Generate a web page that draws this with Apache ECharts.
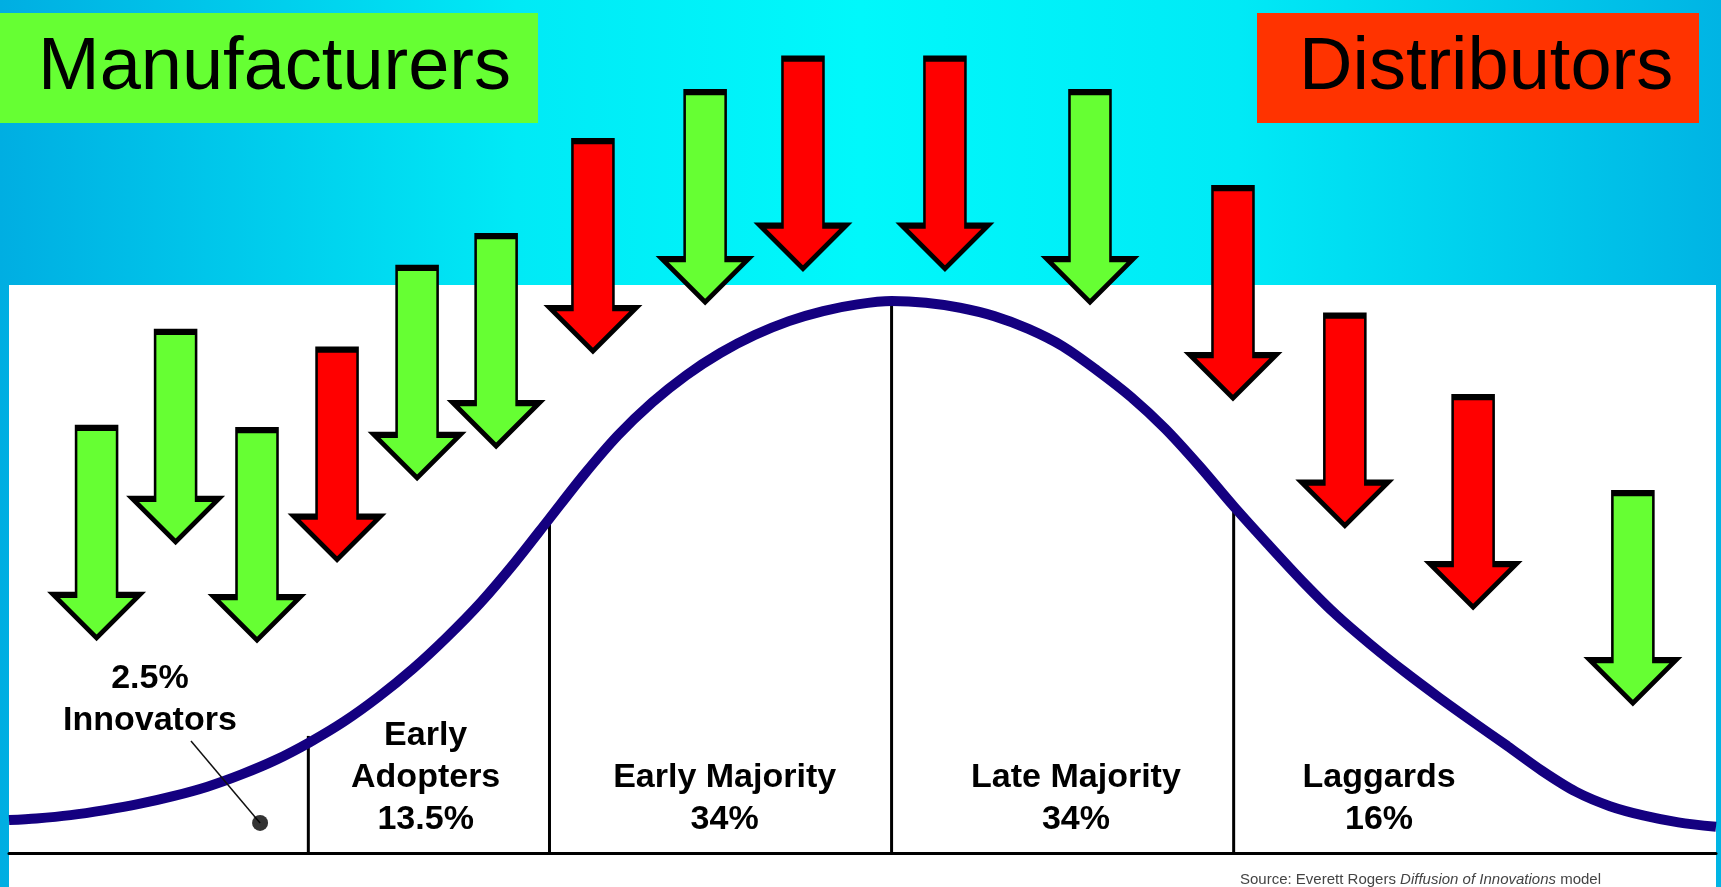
<!DOCTYPE html>
<html><head><meta charset="utf-8">
<script src="https://cdn.jsdelivr.net/npm/echarts@6/dist/echarts.min.js"></script>
<style>html,body{margin:0;padding:0;background:#fff;}#chart{width:1721px;height:887px;}</style>
</head><body><div id="chart"></div>
<script>
// Bell curve of adoption: x in standard deviations from the mean, y relative height (peak ~1)
const curveZ = [-2.58, -2.5, -2.4, -2.3, -2.2, -2.1, -2.0, -1.9, -1.8, -1.7, -1.6, -1.5, -1.4, -1.3, -1.2, -1.1, -1.0, -0.9, -0.8, -0.7, -0.6, -0.5, -0.4, -0.3, -0.2, -0.1, 0,
                0.1, 0.2, 0.3, 0.4, 0.5, 0.6, 0.7, 0.8, 0.9, 1.0, 1.1, 1.2, 1.3, 1.4, 1.5, 1.6, 1.7, 1.8, 1.9, 2.0, 2.1, 2.2, 2.3, 2.41];
const curveH = [0.059, 0.062, 0.068, 0.077, 0.088, 0.102, 0.119, 0.141, 0.167, 0.199, 0.236, 0.280, 0.330, 0.387, 0.450, 0.522, 0.600, 0.678, 0.749, 0.808, 0.857, 0.897, 0.929, 0.954, 0.972, 0.984, 0.990,
                0.987, 0.978, 0.963, 0.940, 0.909, 0.866, 0.818, 0.761, 0.694, 0.622, 0.554, 0.488, 0.427, 0.374, 0.325, 0.279, 0.235, 0.192, 0.148, 0.110, 0.084, 0.067, 0.055, 0.047];

// Segment dividers
const dividerZ = [-1.705, -1.00, 0, 1.00];
const dividerH = [0.21, 0.61, 0.995, 0.625];

// Segment labels (centre position and text)
const segmentZ = [-2.168, -1.362, -0.488, 0.539, 1.425];
const segmentH = [0.276, 0.1345, 0.0969, 0.0969, 0.0969];
const segmentText = ['2.5%\nInnovators', 'Early\nAdopters\n13.5%', 'Early Majority\n34%', 'Late Majority\n34%', 'Laggards\n16%'];

// Innovators pointer (from label to dot)
const pointerZ = [-2.048, -1.846];
const pointerH = [0.201, 0.054];

// Arrows: tip position and who they stand for
const arrowZ = [-2.324, -2.093, -1.855, -1.621, -1.387, -1.156, -0.873, -0.545, -0.259, 0.156, 0.580, 0.998, 1.325, 1.700, 2.167];
const arrowH = [0.386, 0.558, 0.382, 0.526, 0.673, 0.730, 0.900, 0.988, 1.048, 1.048, 0.988, 0.816, 0.587, 0.441, 0.269];
const arrowKind = ['M','M','M','D','M','M','D','M','D','D','M','D','D','D','M'];

const groupNames = ['Manufacturers', 'Distributors'];
const sourceText = ['Source: Everett Rogers ', 'Diffusion of Innovations', ' model'];

const GREEN = '#66ff33', RED = '#ff0000';
const FONT = '"Liberation Sans", Arial, Helvetica, sans-serif';
const arrowPath = 'path://M22.5 0 L63.5 0 L63.5 167 L86 167 L43 210 L0 167 L22.5 167 Z';

const chart = echarts.init(document.getElementById('chart'));
chart.setOption({
  animation: false,
  graphic: [
    { type: 'rect', z: -10, shape: { x: 0, y: 0, width: 1721, height: 887 },
      style: { fill: new echarts.graphic.LinearGradient(0, 0, 1, 0, [
        { offset: 0, color: '#00aee2' }, { offset: 0.3, color: '#00eaf6' },
        { offset: 0.5, color: '#00f8fb' }, { offset: 0.72, color: '#00eaf6' },
        { offset: 1, color: '#00b4e4' }]) } },
    { type: 'rect', z: -9, shape: { x: 9, y: 285, width: 1707, height: 602 }, style: { fill: '#ffffff' } },
    { type: 'rect', z: -8, shape: { x: 0, y: 13, width: 538, height: 110 }, style: { fill: '#66ff33' } },
    { type: 'text', z: -7, x: 38, y: 69, style: { text: groupNames[0], fontSize: 74, fontFamily: FONT, fill: '#000', align: 'left', verticalAlign: 'middle' } },
    { type: 'rect', z: -8, shape: { x: 1257, y: 13, width: 442, height: 110 }, style: { fill: '#ff3300' } },
    { type: 'text', z: -7, x: 1299, y: 69, style: { text: groupNames[1], fontSize: 74, fontFamily: FONT, fill: '#000', align: 'left', verticalAlign: 'middle' } },
    { type: 'text', z: -7, x: 1240, y: 880, style: {
        text: '{n|' + sourceText[0] + '}{i|' + sourceText[1] + '}{n|' + sourceText[2] + '}',
        verticalAlign: 'middle', align: 'left',
        rich: { n: { fontSize: 15, fontFamily: FONT, fill: '#444' }, i: { fontSize: 15, fontFamily: FONT, fontStyle: 'italic', fill: '#444' } } } }
  ],
  grid: { left: 9, right: 5, top: 0, bottom: 34 },
  xAxis: { type: 'value', min: -2.58, max: 2.41,
    axisLine: { show: true, onZero: false, lineStyle: { color: '#000', width: 3 } },
    axisTick: { show: false }, axisLabel: { show: false }, splitLine: { show: false } },
  yAxis: { type: 'value', min: 0, max: 1.53, show: false, splitLine: { show: false } },
  series: [
    { name: 'dividers', type: 'bar', barWidth: 3, z: 2,
      itemStyle: { color: '#000' },
      data: dividerZ.map((z, i) => [z, dividerH[i]]) },
    { name: 'adoption', type: 'line', smooth: 0.3, symbol: 'none', z: 3,
      lineStyle: { color: '#140080', width: 10 },
      data: curveZ.map((z, i) => [z, curveH[i]]) },
    { name: 'pointer', type: 'line', symbol: 'none', z: 3,
      lineStyle: { color: '#111', width: 1.5 },
      data: pointerZ.map((z, i) => [z, pointerH[i]]) },
    { name: 'dot', type: 'scatter', symbolSize: 16, z: 4, itemStyle: { color: '#000' },
      data: [[pointerZ[1], pointerH[1]]] },
    { name: 'labels', type: 'scatter', symbolSize: 0, z: 4,
      itemStyle: { color: '#000', opacity: 1 },
      label: { show: true, position: 'inside', fontSize: 34, fontWeight: 'bold', fontFamily: FONT,
        lineHeight: 42, color: '#000', opacity: 1, textBorderWidth: 0, align: 'center', verticalAlign: 'middle',
        formatter: p => p.data[2] },
      data: segmentZ.map((z, i) => [z, segmentH[i], segmentText[i]]) },
    { name: 'arrows', type: 'scatter', symbol: arrowPath, symbolSize: [86, 210], symbolOffset: [0, '-50%'], z: 6,
      itemStyle: { borderColor: '#000', borderWidth: 4, borderJoin: 'miter', opacity: 1 },
      data: arrowZ.map((z, i) => ({ value: [z, arrowH[i]], itemStyle: { color: arrowKind[i] === 'M' ? GREEN : RED } })) }
  ]
});
</script></body></html>
